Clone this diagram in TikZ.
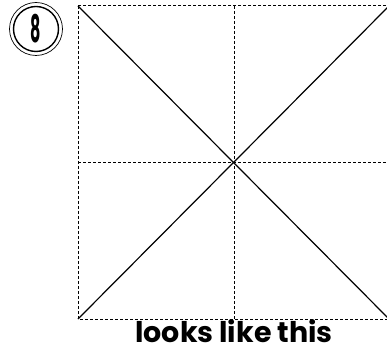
\documentclass[tikz,border=0pt]{standalone}
\usepackage{fontspec}
\usepackage{graphicx}
\setmainfont{Poppins}
\usetikzlibrary{positioning}

\begin{document}
\begin{tikzpicture}[x=1pt,y=-1pt,
  fold/.style={line width=1pt,dash pattern=on 3pt off 2pt},
  crease/.style={line width=1.2pt},
  badge/.style={circle,draw,line width=1.4pt,minimum size=45pt,inner sep=0pt}]
\useasboundingbox (0,0) rectangle (387,352);
\fill[white] (0,0) rectangle (387,352);
% corners and middles of the sheet
\coordinate (tl) at (78,6);
\coordinate (tr) at (389,6);
\coordinate (bl) at (78,319);
\coordinate (br) at (389,319);
\coordinate (tm) at (234,6);
\coordinate (bm) at (234,319);
\coordinate (ml) at (78,162.5);
\coordinate (mr) at (389,162.5);
\draw[fold] (tl) rectangle (br);
\draw[fold] (tm) -- (bm);
\draw[fold] (ml) -- (mr);
\draw[crease] (tl) -- (br);
\draw[crease] (tr) -- (bl);
% step number
\node[badge] (num) at (36,29) {\scalebox{0.42}[1]{\fontsize{38}{38}\selectfont\bfseries 8}};
\draw[line width=0.7pt] (num.center) circle[radius=26.5pt];
\node[anchor=base,inner sep=0pt,font=\fontsize{28.5}{28.5}\selectfont\bfseries] (caption) at (234,342) {looks like this};
\end{tikzpicture}
\end{document}
